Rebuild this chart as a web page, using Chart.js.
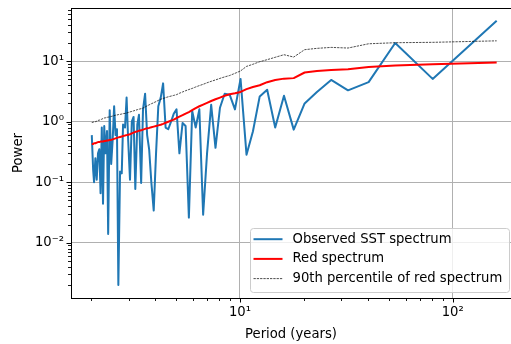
<!DOCTYPE html>
<html>
<head>
<meta charset="utf-8">
<script src="https://cdn.jsdelivr.net/npm/chart.js@4.4.1/dist/chart.umd.min.js"></script>
<style>
    html, body { margin: 0; padding: 0; background: #fff; }
    canvas { display: block; }
</style>
</head>
<body>
<canvas id="spectrumChart" width="511" height="344"></canvas>
<script>
// Chu kỳ (năm), từ ngắn đến dài
const periods = [
    2.01, 2.04, 2.06, 2.09, 2.12, 2.15, 2.18, 2.21, 2.24, 2.27,
    2.30, 2.33, 2.37, 2.40, 2.44, 2.48, 2.52, 2.56, 2.60, 2.64,
    2.68, 2.73, 2.78, 2.82, 2.88, 2.93, 2.98, 3.04, 3.10, 3.16,
    3.22, 3.29, 3.35, 3.43, 3.50, 3.58, 3.66, 3.74, 3.83, 3.93,
    4.03, 4.13, 4.24, 4.35, 4.47, 4.60, 4.74, 4.88, 5.03, 5.19,
    5.37, 5.55, 5.75, 5.96, 6.19, 6.44, 6.71, 7.00, 7.32, 7.67,
    8.05, 8.47, 8.94, 9.47, 10.06, 10.73, 11.50, 12.38, 13.42, 14.64,
    16.10, 17.89, 20.13, 23.00, 26.83, 32.20, 40.25, 53.67, 80.50, 161.00
];

// Phổ SST quan trắc
const observedSST = [
    0.6, 0.16, 0.1, 0.25, 0.11, 0.3, 0.35, 0.066, 0.8, 0.044,
    0.85, 0.3, 0.7, 0.014, 1.55, 0.2, 0.5, 1.8, 0.6, 0.75,
    0.002, 0.15, 0.14, 0.9, 0.8, 2.5, 0.5, 0.11, 1.0, 1.2,
    0.077, 0.9, 1.3, 0.097, 1.6, 2.9, 0.6, 0.35, 0.1, 0.034,
    0.3, 1.8, 2.5, 4.3, 0.8, 0.75, 1.0, 1.35, 1.6, 0.3,
    0.95, 0.85, 0.026, 1.5, 0.8, 1.6, 0.029, 0.3, 1.9, 0.37,
    1.7, 2.9, 2.8, 1.6, 5.1, 0.285, 0.69, 2.62, 3.38, 0.8,
    2.69, 0.74, 2.0, 3.1, 4.9, 3.3, 4.5, 20, 5.1, 46.7
];

// Phổ đỏ
const redSpectrum = [
    0.43, 0.43, 0.44, 0.44, 0.45, 0.46, 0.46, 0.47, 0.47, 0.47,
    0.48, 0.48, 0.49, 0.49, 0.50, 0.50, 0.51, 0.52, 0.53, 0.54,
    0.55, 0.56, 0.57, 0.58, 0.59, 0.60, 0.61, 0.62, 0.64, 0.66,
    0.68, 0.69, 0.71, 0.72, 0.74, 0.76, 0.78, 0.79, 0.81, 0.83,
    0.85, 0.87, 0.89, 0.92, 0.96, 1.00, 1.04, 1.08, 1.15, 1.21,
    1.28, 1.36, 1.44, 1.55, 1.68, 1.80, 1.92, 2.05, 2.20, 2.35,
    2.50, 2.68, 2.85, 2.95, 3.10, 3.45, 3.75, 4.00, 4.50, 4.90,
    5.15, 5.25, 6.50, 6.90, 7.15, 7.35, 8.0, 8.5, 8.9, 9.5
];

// Bách phân vị 90 của phổ đỏ
const red90th = [
    0.97, 0.98, 1.0, 1.0, 1.02, 1.05, 1.06, 1.08, 1.1, 1.13,
    1.15, 1.16, 1.18, 1.19, 1.2, 1.22, 1.24, 1.26, 1.28, 1.29,
    1.31, 1.32, 1.34, 1.36, 1.37, 1.39, 1.42, 1.45, 1.48, 1.51,
    1.54, 1.58, 1.61, 1.64, 1.68, 1.75, 1.83, 1.9, 1.98, 2.06,
    2.15, 2.25, 2.35, 2.42, 2.5, 2.58, 2.65, 2.72, 2.8, 2.95,
    3.1, 3.25, 3.4, 3.55, 3.75, 3.95, 4.15, 4.4, 4.65, 4.9,
    5.2, 5.5, 5.8, 6.3, 6.9, 8.2, 8.9, 9.8, 10.6, 11.6,
    12.8, 11.7, 15.5, 16.3, 16.9, 16.5, 19.4, 20.2, 20.5, 21.7
];

// Nhãn trục
const xMajorTicks = [10, 100];
const xTickLabels = ['10¹', '10²'];
const yMajorTicks = [0.01, 0.1, 1, 10];
const yTickLabels = ['10⁻²', '10⁻¹', '10⁰', '10¹'];

const FONT = { family: 'DejaVu Sans', size: 13.2 };

function toPoints(values) {
    return periods.map((p, i) => ({ x: p, y: values[i] }));
}

// Vạch chia log: 1..9 x 10^n nằm trong [min, max]
function logTicks(min, max) {
    const ticks = [];
    for (let e = Math.floor(Math.log10(min)); e <= Math.ceil(Math.log10(max)); e++) {
        for (let m = 1; m <= 9; m++) {
            const v = m * Math.pow(10, e);
            if (v >= min && v <= max) ticks.push({ value: v });
        }
    }
    return ticks;
}

function isMajor(v) {
    const l = Math.log10(v);
    return Math.abs(l - Math.round(l)) < 1e-9;
}

function tickLabel(majors, labels) {
    return value => {
        const i = majors.findIndex(m => Math.abs(m - value) / m < 1e-6);
        return i >= 0 ? labels[i] : '';
    };
}

// Bỏ phần đệm do nhãn đầu/cuối để vùng vẽ đúng kích thước
function fixBox(size) {
    return s => {
        if (s.isHorizontal()) s.height = size; else s.width = size;
        s.paddingTop = s.paddingBottom = s.paddingLeft = s.paddingRight = 0;
    };
}

// Khung trên + vạch chia chính/phụ
const axisFrame = {
    id: 'axisFrame',
    afterDraw(chart) {
        const { ctx, chartArea: a, scales: { x, y } } = chart;
        ctx.save();
        ctx.strokeStyle = '#000';
        ctx.lineWidth = 1;
        ctx.beginPath();
        ctx.moveTo(a.left, Math.round(a.top) + 0.5);
        ctx.lineTo(a.right, Math.round(a.top) + 0.5);
        ctx.stroke();

        x.ticks.forEach(t => {
            const px = Math.round(x.getPixelForValue(t.value)) + 0.5;
            const len = isMajor(t.value) ? 4.5 : 3;
            ctx.lineWidth = isMajor(t.value) ? 1 : 0.9;
            ctx.beginPath();
            ctx.moveTo(px, a.bottom);
            ctx.lineTo(px, a.bottom + len);
            ctx.stroke();
        });
        y.ticks.forEach(t => {
            const py = Math.round(y.getPixelForValue(t.value)) + 0.5;
            const len = isMajor(t.value) ? 4.5 : 3;
            ctx.lineWidth = isMajor(t.value) ? 1 : 0.9;
            ctx.beginPath();
            ctx.moveTo(a.left, py);
            ctx.lineTo(a.left - len, py);
            ctx.stroke();
        });
        ctx.restore();
    }
};

// Chú thích góc dưới phải
const legendBox = {
    id: 'legendBox',
    afterDraw(chart) {
        const { ctx, chartArea: a } = chart;
        const w = 259, h = 64;
        const bx = a.right - w - 1.5;
        const by = a.bottom - h - 5.5;
        ctx.save();
        ctx.beginPath();
        ctx.roundRect(bx, by, w, h, 3);
        ctx.fillStyle = 'rgba(255, 255, 255, 0.8)';
        ctx.fill();
        ctx.strokeStyle = '#cccccc';
        ctx.lineWidth = 1;
        ctx.stroke();

        ctx.font = `${FONT.size}px "${FONT.family}"`;
        ctx.textBaseline = 'middle';
        chart.data.datasets.forEach((ds, i) => {
            const ly = by + 10.7 + i * 19.7;
            ctx.beginPath();
            ctx.strokeStyle = ds.borderColor;
            ctx.lineWidth = ds.borderWidth;
            ctx.setLineDash(ds.borderDash || []);
            ctx.moveTo(bx + 3, ly);
            ctx.lineTo(bx + 32, ly);
            ctx.stroke();
            ctx.setLineDash([]);
            ctx.fillStyle = '#000';
            ctx.fillText(ds.label, bx + 42, ly);
        });
        ctx.restore();
    }
};

const gridColor = c => (c.tick && isMajor(c.tick.value)) ? '#b0b0b0' : 'rgba(0, 0, 0, 0)';

new Chart(document.getElementById('spectrumChart'), {
    type: 'line',
    data: {
        datasets: [{
            label: 'Observed SST spectrum',
            data: toPoints(observedSST),
            borderColor: '#1f77b4',
            borderWidth: 2,
            order: 3
        }, {
            label: 'Red spectrum',
            data: toPoints(redSpectrum),
            borderColor: '#ff0000',
            borderWidth: 2,
            order: 2
        }, {
            label: '90th percentile of red spectrum',
            data: toPoints(red90th),
            borderColor: '#000000',
            borderWidth: 0.7,
            borderDash: [2.3, 1.0],
            order: 1
        }]
    },
    options: {
        responsive: false,
        animation: false,
        devicePixelRatio: 1,
        layout: { padding: { top: 8, right: 0, bottom: 0, left: 0 } },
        elements: {
            point: { radius: 0 },
            line: { tension: 0, borderJoinStyle: 'round', borderCapStyle: 'butt' }
        },
        plugins: {
            legend: { display: false },
            tooltip: { enabled: false }
        },
        scales: {
            x: {
                type: 'logarithmic',
                position: 'bottom',
                bounds: 'data',
                min: 1.605,
                max: 188,
                afterBuildTicks: s => { s.ticks = logTicks(s.min, s.max); },
                afterFit: fixBox(46),
                grid: { color: gridColor, lineWidth: 1, drawTicks: false },
                border: { display: true, color: '#000', width: 1 },
                ticks: {
                    autoSkip: false,
                    maxRotation: 0,
                    padding: 7,
                    color: '#000',
                    font: FONT,
                    callback: tickLabel(xMajorTicks, xTickLabels)
                },
                title: {
                    display: true,
                    text: 'Period (years)',
                    color: '#000',
                    font: FONT,
                    padding: { top: 0, bottom: 2 }
                }
            },
            y: {
                type: 'logarithmic',
                position: 'left',
                bounds: 'data',
                min: 0.00122,
                max: 75.7,
                afterBuildTicks: s => { s.ticks = logTicks(s.min, s.max); },
                afterFit: fixBox(71),
                grid: { color: gridColor, lineWidth: 1, drawTicks: false },
                border: { display: true, color: '#000', width: 1 },
                ticks: {
                    autoSkip: false,
                    padding: 7,
                    color: '#000',
                    font: FONT,
                    callback: tickLabel(yMajorTicks, yTickLabels)
                },
                title: {
                    display: true,
                    text: 'Power',
                    color: '#000',
                    font: FONT,
                    padding: { top: 11, bottom: 0 }
                }
            }
        }
    },
    plugins: [axisFrame, legendBox]
});
</script>
</body>
</html>
